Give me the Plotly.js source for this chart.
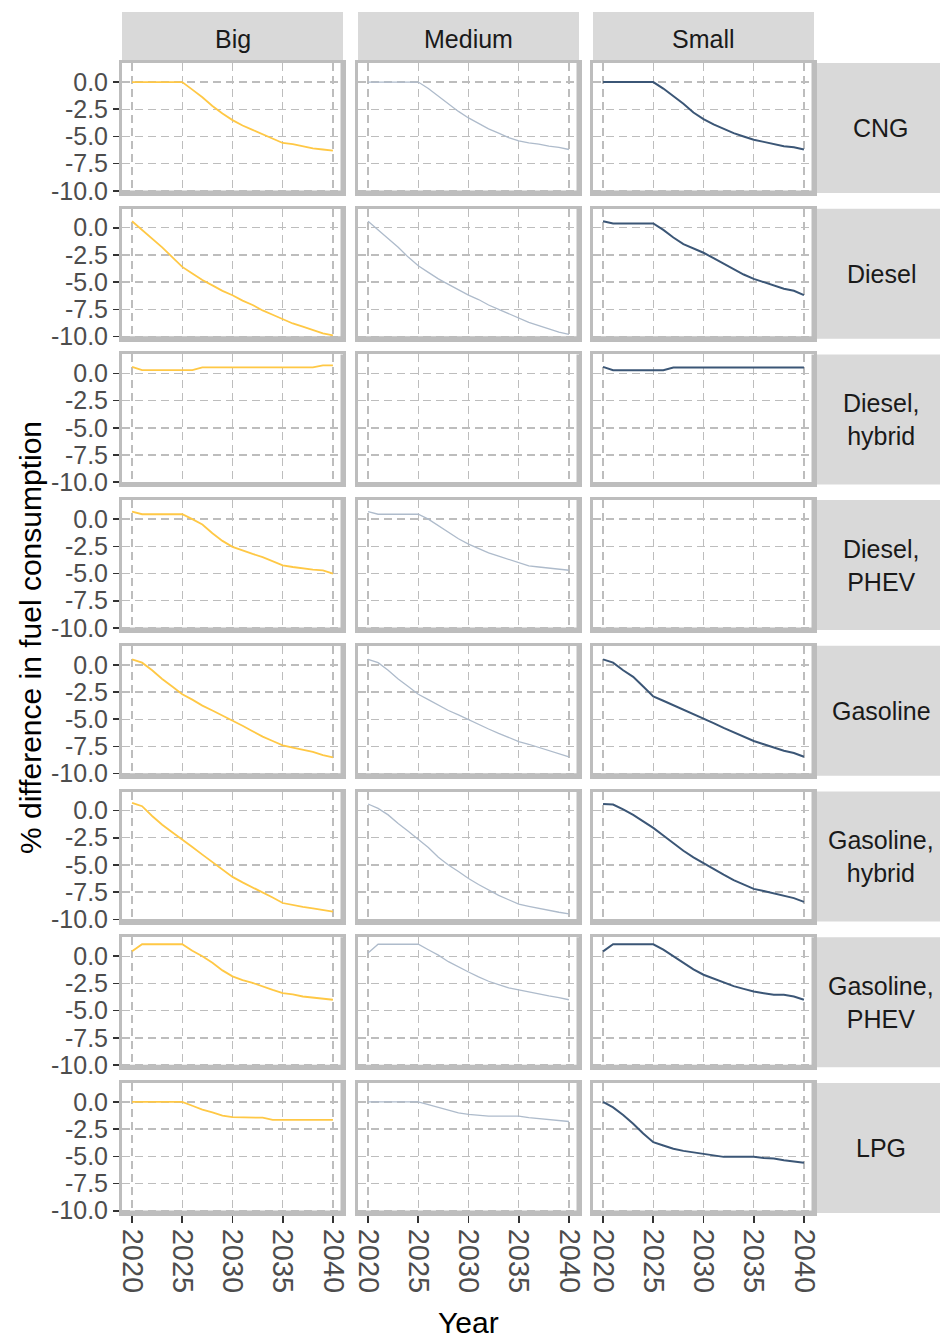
<!DOCTYPE html>
<html>
<head>
<meta charset="utf-8">
<script src="https://cdn.plot.ly/plotly-3.0.1.min.js"></script>
<style>
  html, body { margin: 0; padding: 0; background: #ffffff; }
  #chart { width: 940px; height: 1338px; }
</style>
</head>
<body>
<div id="chart"></div>
<script>
// Years on the horizontal axis of every panel
const years = [2020, 2021, 2022, 2023, 2024, 2025, 2026, 2027, 2028, 2029, 2030,
               2031, 2032, 2033, 2034, 2035, 2036, 2037, 2038, 2039, 2040];

// Facet labels
const sizes = ["Big", "Medium", "Small"];
const fuels = ["CNG", "Diesel", "Diesel,<br>hybrid", "Diesel,<br>PHEV", "Gasoline",
               "Gasoline,<br>hybrid", "Gasoline,<br>PHEV", "LPG"];

// Tick labels
const yTickValues = [0, -2.5, -5, -7.5, -10];
const yTickLabels = ["0.0", "-2.5", "-5.0", "-7.5", "-10.0"];
const xTickValues = [2020, 2025, 2030, 2035, 2040];
const xTickLabels = ["2020", "2025", "2030", "2035", "2040"];

// % difference in fuel consumption, one series per fuel and vehicle size
const cngBig    = [0, 0, 0, 0, 0, 0, -0.7, -1.4, -2.2, -2.9, -3.5, -4.0, -4.4, -4.8, -5.2, -5.6, -5.7, -5.9, -6.1, -6.2, -6.3];
const cngMedium = [0, 0, 0, 0, 0, 0, -0.6, -1.3, -2.0, -2.7, -3.3, -3.8, -4.3, -4.7, -5.1, -5.4, -5.6, -5.7, -5.9, -6.0, -6.2];
const cngSmall  = [0, 0, 0, 0, 0, 0, -0.6, -1.3, -2.0, -2.8, -3.4, -3.9, -4.3, -4.7, -5.0, -5.3, -5.5, -5.7, -5.9, -6.0, -6.2];

const dieselBig    = [0.6, -0.2, -1.0, -1.8, -2.7, -3.6, -4.2, -4.8, -5.3, -5.8, -6.2, -6.7, -7.1, -7.6, -8.0, -8.4, -8.8, -9.1, -9.4, -9.7, -9.9];
const dieselMedium = [0.6, -0.2, -1.0, -1.8, -2.7, -3.5, -4.1, -4.7, -5.2, -5.7, -6.2, -6.6, -7.1, -7.5, -7.9, -8.3, -8.7, -9.0, -9.3, -9.6, -9.8];
const dieselSmall  = [0.6, 0.4, 0.4, 0.4, 0.4, 0.4, -0.2, -0.9, -1.5, -1.9, -2.3, -2.8, -3.3, -3.8, -4.3, -4.7, -5.0, -5.3, -5.6, -5.8, -6.2];

const dieselHybridBig    = [0.6, 0.3, 0.3, 0.3, 0.3, 0.3, 0.3, 0.55, 0.55, 0.55, 0.55, 0.55, 0.55, 0.55, 0.55, 0.55, 0.55, 0.55, 0.55, 0.75, 0.75];
const dieselHybridMedium = [];
const dieselHybridSmall  = [0.6, 0.3, 0.3, 0.3, 0.3, 0.3, 0.3, 0.55, 0.55, 0.55, 0.55, 0.55, 0.55, 0.55, 0.55, 0.55, 0.55, 0.55, 0.55, 0.55, 0.55];

const dieselPhevBig    = [0.7, 0.45, 0.45, 0.45, 0.45, 0.45, 0.0, -0.5, -1.3, -2.0, -2.55, -2.9, -3.2, -3.5, -3.9, -4.25, -4.4, -4.55, -4.65, -4.7, -5.0];
const dieselPhevMedium = [0.7, 0.45, 0.45, 0.45, 0.45, 0.45, 0.0, -0.6, -1.2, -1.8, -2.3, -2.7, -3.1, -3.4, -3.7, -4.0, -4.3, -4.4, -4.5, -4.55, -4.7];
const dieselPhevSmall  = [];

const gasolineBig    = [0.5, 0.2, -0.5, -1.3, -2.0, -2.7, -3.2, -3.75, -4.2, -4.65, -5.1, -5.6, -6.1, -6.6, -7.0, -7.4, -7.6, -7.8, -8.0, -8.3, -8.5];
const gasolineMedium = [0.5, 0.2, -0.5, -1.3, -2.0, -2.7, -3.2, -3.7, -4.2, -4.6, -5.05, -5.5, -5.9, -6.3, -6.7, -7.05, -7.3, -7.6, -7.9, -8.2, -8.45];
const gasolineSmall  = [0.5, 0.2, -0.5, -1.1, -2.0, -2.9, -3.3, -3.7, -4.1, -4.5, -4.9, -5.35, -5.8, -6.2, -6.6, -7.0, -7.3, -7.6, -7.9, -8.1, -8.45];

const gasolineHybridBig    = [0.7, 0.4, -0.5, -1.3, -2.0, -2.65, -3.35, -4.05, -4.75, -5.45, -6.1, -6.6, -7.05, -7.5, -8.0, -8.5, -8.7, -8.85, -9.0, -9.15, -9.3];
const gasolineHybridMedium = [0.6, 0.2, -0.4, -1.2, -1.9, -2.65, -3.4, -4.3, -5.0, -5.6, -6.25, -6.8, -7.3, -7.8, -8.2, -8.6, -8.8, -9.0, -9.2, -9.35, -9.5];
const gasolineHybridSmall  = [0.6, 0.55, 0.1, -0.4, -1.0, -1.6, -2.3, -3.0, -3.7, -4.3, -4.85, -5.4, -5.9, -6.4, -6.8, -7.2, -7.4, -7.6, -7.8, -8.05, -8.4];

const gasolinePhevBig    = [0.45, 1.1, 1.1, 1.1, 1.1, 1.1, 0.5, 0.0, -0.6, -1.3, -1.85, -2.2, -2.45, -2.8, -3.1, -3.4, -3.5, -3.7, -3.8, -3.85, -4.0];
const gasolinePhevMedium = [0.3, 1.1, 1.1, 1.1, 1.1, 1.1, 0.6, 0.1, -0.5, -1.0, -1.45, -1.9, -2.3, -2.6, -2.9, -3.1, -3.3, -3.5, -3.65, -3.8, -4.0];
const gasolinePhevSmall  = [0.45, 1.1, 1.1, 1.1, 1.1, 1.1, 0.6, 0.0, -0.6, -1.2, -1.7, -2.05, -2.4, -2.75, -3.0, -3.25, -3.4, -3.55, -3.55, -3.7, -4.0];

const lpgBig    = [0, 0, 0, 0, 0, 0, -0.35, -0.7, -0.95, -1.25, -1.4, -1.4, -1.4, -1.45, -1.65, -1.65, -1.65, -1.65, -1.65, -1.65, -1.65];
const lpgMedium = [0, 0, 0, 0, 0, 0, -0.25, -0.5, -0.75, -1.0, -1.15, -1.25, -1.3, -1.3, -1.3, -1.3, -1.45, -1.55, -1.6, -1.7, -1.8];
const lpgSmall  = [0, -0.5, -1.2, -2.0, -2.9, -3.7, -4.0, -4.3, -4.5, -4.65, -4.8, -4.95, -5.05, -5.05, -5.05, -5.05, -5.15, -5.2, -5.35, -5.45, -5.6];

// Rows in facet order, columns Big / Medium / Small
const panelSeries = [
  [cngBig, cngMedium, cngSmall],
  [dieselBig, dieselMedium, dieselSmall],
  [dieselHybridBig, dieselHybridMedium, dieselHybridSmall],
  [dieselPhevBig, dieselPhevMedium, dieselPhevSmall],
  [gasolineBig, gasolineMedium, gasolineSmall],
  [gasolineHybridBig, gasolineHybridMedium, gasolineHybridSmall],
  [gasolinePhevBig, gasolinePhevMedium, gasolinePhevSmall],
  [lpgBig, lpgMedium, lpgSmall]
];

const sizeColors = ["#FFC845", "#AEBBCB", "#3B5676"];
const sizeWidths = [1.8, 1.3, 2.0];

// Page geometry (pixels)
const W = 940, H = 1338;
const colLeft = [122, 358, 593];
const colWidth = 221;
const rowTop0 = 63, rowPitch = 145.7, rowHeight = 130;
const stripTop = 12, stripBottom = 62;
const rightStripLeft = 816;

const FONT = "Liberation Sans, Arial, sans-serif";
const frameColor = "#BDBDBD";
const gridColor = "#BDBDBD";
const gridDash = "8px,5px";

const traces = [];
const layout = {
  width: W, height: H,
  margin: { l: 0, r: 0, t: 0, b: 0 },
  paper_bgcolor: "#ffffff",
  plot_bgcolor: "#ffffff",
  showlegend: false,
  font: { family: FONT, color: "#4D4D4D" },
  shapes: [],
  annotations: []
};

const px = v => v / W;
const py = v => 1 - v / H;

for (let r = 0; r < fuels.length; r++) {
  const top = rowTop0 + r * rowPitch;
  const bottom = top + rowHeight;
  for (let c = 0; c < sizes.length; c++) {
    const k = r * 3 + c + 1;
    const sfx = k === 1 ? "" : String(k);
    const left = colLeft[c];
    const right = left + colWidth;
    const isBottomRow = r === fuels.length - 1;
    const isFirstCol = c === 0;

    layout["xaxis" + sfx] = {
      domain: [px(left), px(right)],
      anchor: "y" + sfx,
      range: [2019, 2041],
      tickmode: "array",
      tickvals: xTickValues,
      ticktext: xTickLabels,
      showticklabels: isBottomRow,
      ticks: isBottomRow ? "outside" : "",
      ticklen: 7, tickwidth: 1.6, tickcolor: "#333333",
      tickangle: 90,
      tickfont: { family: FONT, size: 29, color: "#4D4D4D" },
      showgrid: true, gridcolor: gridColor, gridwidth: 1.4, griddash: gridDash,
      showline: true, mirror: true, linecolor: frameColor, linewidth: 3,
      zeroline: false, fixedrange: true
    };
    layout["yaxis" + sfx] = {
      domain: [py(bottom), py(top)],
      anchor: "x" + sfx,
      range: [-10.2, 1.75],
      tickmode: "array",
      tickvals: yTickValues,
      ticktext: yTickLabels,
      showticklabels: isFirstCol,
      ticks: isFirstCol ? "outside" : "",
      ticklen: 6, tickwidth: 1.6, tickcolor: "#333333",
      tickfont: { family: FONT, size: 25, color: "#4D4D4D" },
      showgrid: true, gridcolor: gridColor, gridwidth: 1.4, griddash: gridDash,
      showline: true, mirror: true, linecolor: frameColor, linewidth: 3,
      zeroline: false, fixedrange: true
    };

    // heavier right and bottom edge of the panel frame
    layout.shapes.push({
      type: "line", xref: "x" + sfx + " domain", yref: "y" + sfx + " domain",
      x0: 1, x1: 1, y0: 0, y1: 1, line: { color: frameColor, width: 5 }, layer: "above"
    });
    layout.shapes.push({
      type: "line", xref: "x" + sfx + " domain", yref: "y" + sfx + " domain",
      x0: 0, x1: 1, y0: 0, y1: 0, line: { color: frameColor, width: 5 }, layer: "above"
    });

    // every panel gets a trace so that empty facets keep their frame and grid
    const values = panelSeries[r][c];
    traces.push({
      type: "scatter", mode: "lines",
      x: values.length ? years : [],
      y: values,
      xaxis: "x" + sfx, yaxis: "y" + sfx,
      line: { color: sizeColors[c], width: sizeWidths[c] },
      hoverinfo: "skip", showlegend: false
    });
  }

  // facet strip on the right for the fuel type
  layout.shapes.push({
    type: "rect", xref: "paper", yref: "paper",
    x0: px(rightStripLeft), x1: 1, y0: py(bottom), y1: py(top),
    fillcolor: "#D9D9D9", line: { width: 0 }, layer: "below"
  });
  layout.annotations.push({
    xref: "paper", yref: "paper",
    x: px((rightStripLeft + W) / 2 + 3), y: py((top + bottom) / 2),
    text: fuels[r], showarrow: false,
    xanchor: "center", yanchor: "middle", align: "center",
    font: { family: FONT, size: 25, color: "#1A1A1A" }
  });
}

// facet strips on top for the vehicle size
for (let c = 0; c < sizes.length; c++) {
  const left = colLeft[c];
  const right = left + colWidth;
  layout.shapes.push({
    type: "rect", xref: "paper", yref: "paper",
    x0: px(left), x1: px(right), y0: py(stripBottom), y1: py(stripTop),
    fillcolor: "#D9D9D9", line: { width: 0 }, layer: "below"
  });
  layout.annotations.push({
    xref: "paper", yref: "paper",
    x: px((left + right) / 2), y: py((stripTop + stripBottom) / 2 + 2),
    text: sizes[c], showarrow: false,
    xanchor: "center", yanchor: "middle",
    font: { family: FONT, size: 25, color: "#1A1A1A" }
  });
}

// axis titles
layout.annotations.push({
  xref: "paper", yref: "paper",
  x: px(30), y: py(638),
  text: "% difference in fuel consumption", textangle: -90, showarrow: false,
  xanchor: "center", yanchor: "middle",
  font: { family: FONT, size: 30, color: "#000000" }
});
layout.annotations.push({
  xref: "paper", yref: "paper",
  x: px(468), y: py(1322),
  text: "Year", showarrow: false,
  xanchor: "center", yanchor: "middle",
  font: { family: FONT, size: 30, color: "#000000" }
});

Plotly.newPlot("chart", traces, layout, { displayModeBar: false, staticPlot: true });
</script>
</body>
</html>
